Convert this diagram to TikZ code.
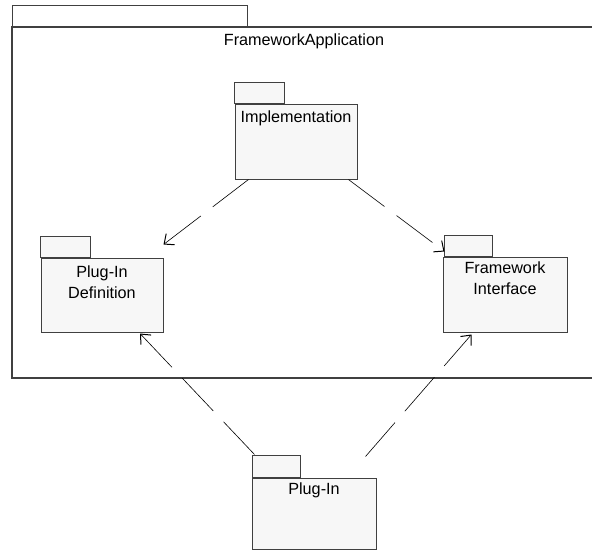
\documentclass[tikz,border=0pt]{standalone}
\usepackage{fontspec}
\setmainfont{Liberation Sans}
\usetikzlibrary{arrows.meta, positioning, calc}

\begin{document}
\begin{tikzpicture}[x=1pt, y=1pt,
    pkg/.style={draw=black!75, line width=1pt, fill=black!3, inner sep=0pt},
    pkgtab/.style={draw=black!75, line width=1pt, fill=black!3},
    pkgtext/.style={inner sep=0pt, align=center, font=\fontsize{16.2}{21.5}\selectfont},
    dep/.style={draw=black, line width=0.6pt, dash pattern=on 45pt off 15pt,
        -{Straight Barb[length=8pt, width=14pt, line width=1pt]}}]
    \useasboundingbox (0,0) rectangle (592,-550);
    \draw[pkgtab, fill=white] (12,-5) rectangle (247,-27);
    \draw[black!75, line width=1.2pt] (592,-27) -- (12,-27) -- (12,-378) -- (592,-378);
    \node[pkgtext, anchor=north] (apptitle) at (304,-34) {FrameworkApplication};

    \node[pkg, minimum width=122pt, minimum height=75pt] (impl) at (296,-141.5) {};
    \draw[pkgtab] (impl.north west) rectangle ++(50,21);
    \node[pkgtext, below=7pt of impl.north] (impltext) {Implementation};

    \node[pkg, minimum width=122pt, minimum height=74pt] (plugdef) at (102,-295) {};
    \draw[pkgtab] (plugdef.north west) rectangle ++(50,21);
    \node[pkgtext, below=8pt of plugdef.north] (plugdeftext) {Plug-In\\Definition};

    \node[pkg, minimum width=124pt, minimum height=75pt] (fwint) at (505,-294.5) {};
    \draw[pkgtab] ($(fwint.north west)+(2,0)$) rectangle ++(48,21);
    \node[pkgtext, below=5pt of fwint.north] (fwinttext) {Framework\\Interface};

    \node[pkg, minimum width=124pt, minimum height=71pt] (plugin) at (314,-513.5) {};
    \draw[pkgtab] ($(plugin.north west)+(1,0)$) rectangle ++(48,22);
    \node[pkgtext, below=5pt of plugin.north] (plugintext) {Plug-In};

    \draw[dep] ($(impl.south west)+(14,0)$) -- ($(plugdef.north east)+(0,13)$);
    \draw[dep] ($(impl.south east)+(-9,0)$) -- ($(fwint.north west)+(2,5)$);
    \draw[dep] ($(plugin.north west)+(3,23)$) -- ($(plugdef.south)+(38,-1)$);
    \draw[dep] ($(plugin.north east)+(-11,21)$) -- ($(fwint.south west)+(29,-2)$);
\end{tikzpicture}
\end{document}
